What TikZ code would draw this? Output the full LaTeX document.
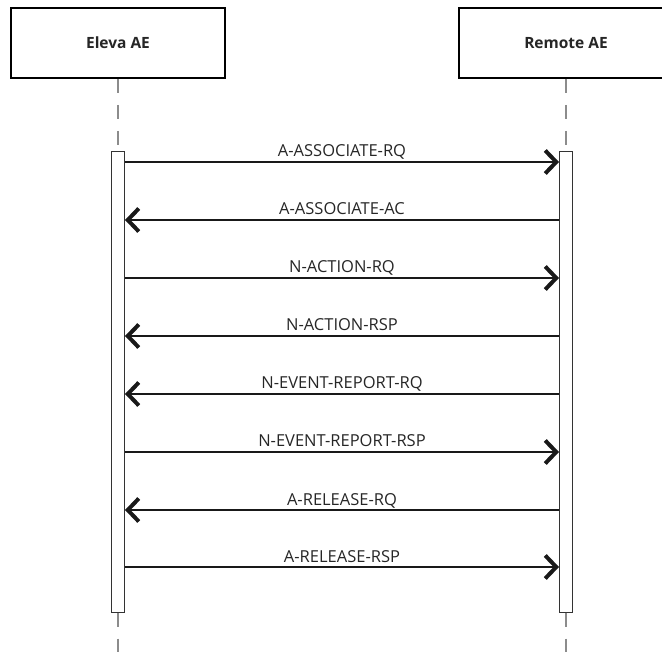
\documentclass[tikz,border=0pt]{standalone}
\usepackage{fontspec}
\setmainfont{Open Sans}
\usetikzlibrary{arrows.meta}
\begin{document}
\begin{tikzpicture}[x=1pt,y=-1pt,
 actor/.style={draw=black, line width=2pt, fill=white, minimum width=214pt, minimum height=70pt, font=\bfseries\fontsize{15.5}{19}\selectfont, text=black!85, inner sep=0pt},
 life/.style={draw=black!45, line width=1.5pt, dash pattern=on 14pt off 12pt},
 bar/.style={draw=black!80, fill=white, line width=1pt, minimum width=13pt, minimum height=460pt, inner sep=0pt},
 msg/.style={line width=2pt, draw=black!90, -{Straight Barb[length=11pt,width=23pt,line width=4pt]}},
 lbl/.style={font=\fontsize{16.5}{19}\selectfont, text=black!85, anchor=base, inner sep=0pt}
]
\useasboundingbox (0,0) rectangle (662,652);
\node[actor] (ea) at (118,43) {Eleva AE};
\node[actor] (ra) at (566,43) {Remote AE};
\node[bar] (lb) at (118,382) {};
\node[bar] (rb) at (566,382) {};
\coordinate (lend) at (118,652);
\coordinate (rend) at (566,652);
\draw[life] (ea.south) -- (lb.north);
\draw[life] (ra.south) -- (rb.north);
\draw[life] (lb.south) -- (lend);
\draw[life] (rb.south) -- (rend);
\foreach \i/\y/\d/\t in {1/162/r/A-ASSOCIATE-RQ, 2/220/l/A-ASSOCIATE-AC, 3/278/r/N-ACTION-RQ, 4/336/l/N-ACTION-RSP, 5/394/l/N-EVENT-REPORT-RQ, 6/452/r/N-EVENT-REPORT-RSP, 7/510/l/A-RELEASE-RQ, 8/567/r/A-RELEASE-RSP}{
  \coordinate (l\i) at (lb.east |- 0,\y);
  \coordinate (r\i) at (rb.west |- 0,\y);
  \if r\d
    \draw[msg] (l\i) -- node[lbl, yshift=5pt] (t\i) {\t} (r\i);
  \else
    \draw[msg] (r\i) -- node[lbl, yshift=5pt] (t\i) {\t} (l\i);
  \fi
}
\end{tikzpicture}
\end{document}
